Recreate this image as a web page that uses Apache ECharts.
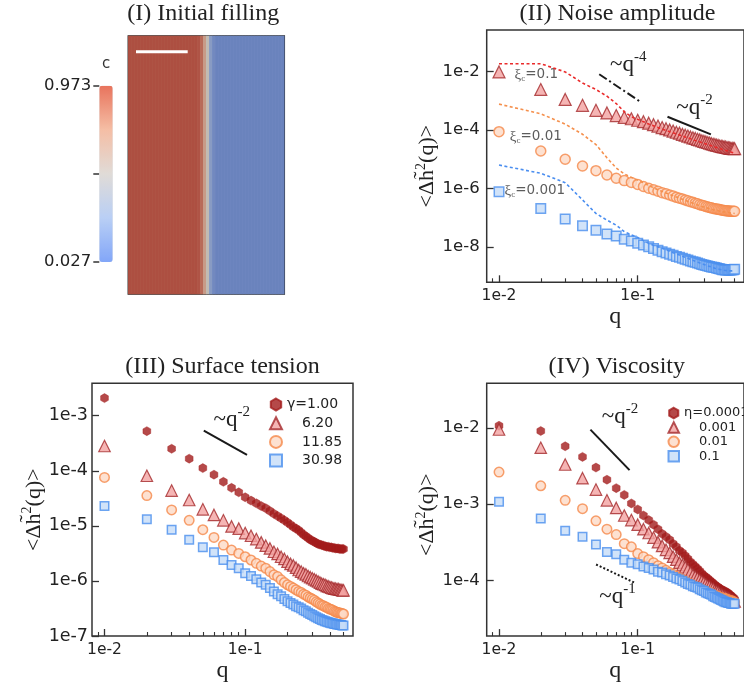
<!DOCTYPE html>
<html><head><meta charset="utf-8">
<script src="https://cdn.jsdelivr.net/npm/echarts@6/dist/echarts.min.js"></script>
<style>html,body{margin:0;padding:0;background:#fff}#c{width:744px;height:684px}</style>
</head><body><div id="c"></div>
<script>
// ---------------- data ----------------
const q = [0.01,0.02,0.03,0.04,0.05,0.06,0.07,0.08,0.09,0.10,0.11,0.12,0.13,0.14,0.15,0.16,0.17,0.18,0.19,0.20,
  0.21,0.22,0.23,0.24,0.25,0.26,0.27,0.28,0.29,0.30,0.31,0.32,0.33,0.34,0.35,0.36,0.37,0.38,0.39,0.40,
  0.41,0.42,0.43,0.44,0.45,0.46,0.47,0.48,0.49,0.50];

// (I) initial filling: concentration profile across the box (columns, left to right)
const fillProfile = [0.973,0.973,0.973,0.973,0.973,0.973,0.973,0.973,0.973,0.973,0.973,0.973,0.973,0.973,0.973,0.973,
  0.973,0.973,0.973,0.973,0.973,0.973,0.973,0.95,0.85,0.65,0.45,0.22,0.08,
  0.027,0.027,0.027,0.027,0.027,0.027,0.027,0.027,0.027,0.027,0.027,0.027,0.027,0.027,0.027,0.027,0.027,0.027,0.027,0.027,0.027,0.027,0.027];
const cbTicks = [0.027, 0.5, 0.973];
const cbLabels = [0.027, 0.973];

// (II) noise amplitude
const noiseXi01 = [9.55e-3,2.40e-3,1.10e-3,6.92e-4,4.68e-4,3.80e-4,3.09e-4,2.69e-4,2.40e-4,2.14e-4,1.91e-4,1.70e-4,1.51e-4,1.35e-4,1.20e-4,1.10e-4,1.00e-4,9.12e-5,8.32e-5,7.76e-5,
  7.08e-5,6.61e-5,6.17e-5,5.75e-5,5.37e-5,5.13e-5,4.79e-5,4.57e-5,4.27e-5,4.07e-5,3.89e-5,3.72e-5,3.55e-5,3.39e-5,3.24e-5,3.16e-5,3.02e-5,2.95e-5,2.82e-5,2.75e-5,
  2.69e-5,2.63e-5,2.57e-5,2.51e-5,2.45e-5,2.40e-5,2.34e-5,2.34e-5,2.29e-5,2.29e-5];
const noiseXi01Line = [1.82e-2,1.82e-2,9.55e-3,3.98e-3,2.40e-3,1.41e-3,7.94e-4,4.17e-4,2.82e-4,2.29e-4,1.91e-4,1.58e-4,1.38e-4,1.20e-4,1.07e-4,9.55e-5,8.71e-5,7.94e-5,7.24e-5,6.76e-5,
  6.17e-5,5.75e-5,5.37e-5,5.01e-5,4.68e-5,4.37e-5,4.17e-5,3.89e-5,3.72e-5,3.47e-5,3.31e-5,3.16e-5,3.02e-5,2.88e-5,2.75e-5,2.63e-5,2.51e-5,2.40e-5,2.34e-5,2.24e-5,
  2.14e-5,2.09e-5,2.00e-5,1.95e-5,1.86e-5,1.82e-5,1.74e-5,1.70e-5,1.66e-5,1.58e-5];
const noiseXi001 = [8.71e-5,1.91e-5,1.00e-5,5.89e-6,4.07e-6,2.88e-6,2.24e-6,1.86e-6,1.62e-6,1.38e-6,1.17e-6,1.02e-6,9.12e-7,8.13e-7,7.24e-7,6.61e-7,6.03e-7,5.50e-7,5.01e-7,4.68e-7,
  4.37e-7,4.07e-7,3.80e-7,3.55e-7,3.39e-7,3.16e-7,3.02e-7,2.82e-7,2.69e-7,2.57e-7,2.45e-7,2.34e-7,2.24e-7,2.19e-7,2.09e-7,2.04e-7,2.00e-7,1.95e-7,1.91e-7,1.86e-7,
  1.82e-7,1.78e-7,1.74e-7,1.74e-7,1.70e-7,1.70e-7,1.66e-7,1.66e-7,1.66e-7,1.66e-7];
const noiseXi001Line = [7.59e-4,3.55e-4,1.58e-4,7.08e-5,3.16e-5,1.12e-5,5.01e-6,3.16e-6,2.40e-6,1.95e-6,1.58e-6,1.26e-6,1.07e-6,9.12e-7,7.94e-7,7.08e-7,6.31e-7,5.62e-7,5.13e-7,4.68e-7,
  4.27e-7,3.98e-7,3.63e-7,3.39e-7,3.16e-7,2.95e-7,2.75e-7,2.63e-7,2.45e-7,2.34e-7,2.24e-7,2.14e-7,2.04e-7,1.95e-7,1.91e-7,1.82e-7,1.78e-7,1.74e-7,1.70e-7,1.66e-7,
  1.62e-7,1.58e-7,1.55e-7,1.55e-7,1.51e-7,1.48e-7,1.48e-7,1.45e-7,1.45e-7,1.41e-7];
const noiseXi0001 = [7.76e-7,2.09e-7,9.12e-8,5.37e-8,3.80e-8,2.82e-8,2.40e-8,1.86e-8,1.62e-8,1.35e-8,1.17e-8,1.02e-8,8.91e-9,7.76e-9,6.92e-9,6.31e-9,5.75e-9,5.25e-9,4.79e-9,4.47e-9,
  4.17e-9,3.89e-9,3.63e-9,3.39e-9,3.16e-9,3.02e-9,2.88e-9,2.69e-9,2.57e-9,2.45e-9,2.34e-9,2.29e-9,2.19e-9,2.09e-9,2.04e-9,2.00e-9,1.95e-9,1.86e-9,1.82e-9,1.74e-9,
  1.70e-9,1.70e-9,1.66e-9,1.66e-9,1.66e-9,1.66e-9,1.66e-9,1.70e-9,1.70e-9,1.74e-9];
const noiseXi0001Line = [6.31e-6,3.31e-6,1.58e-6,4.07e-7,1.41e-7,8.32e-8,5.62e-8,3.39e-8,2.63e-8,2.14e-8,1.66e-8,1.35e-8,1.15e-8,1.02e-8,9.12e-9,8.13e-9,7.24e-9,6.46e-9,5.89e-9,5.37e-9,
  4.90e-9,4.47e-9,4.17e-9,3.80e-9,3.55e-9,3.31e-9,3.09e-9,2.88e-9,2.69e-9,2.57e-9,2.40e-9,2.29e-9,2.19e-9,2.09e-9,2.00e-9,1.91e-9,1.86e-9,1.78e-9,1.74e-9,1.70e-9,
  1.66e-9,1.62e-9,1.58e-9,1.58e-9,1.55e-9,1.55e-9,1.55e-9,1.55e-9,1.58e-9,1.58e-9];

// (III) surface tension
const tensionG100 = [2.09e-3,5.25e-4,2.51e-4,1.66e-4,1.12e-4,8.51e-5,6.31e-5,4.90e-5,4.07e-5,3.31e-5,2.88e-5,2.57e-5,2.29e-5,2.09e-5,1.86e-5,1.66e-5,1.51e-5,1.38e-5,1.26e-5,1.15e-5,
  1.05e-5,9.55e-6,8.91e-6,8.32e-6,7.59e-6,6.92e-6,6.46e-6,6.03e-6,5.62e-6,5.37e-6,5.13e-6,4.90e-6,4.68e-6,4.57e-6,4.47e-6,4.37e-6,4.27e-6,4.17e-6,4.17e-6,4.07e-6,
  4.07e-6,3.98e-6,3.98e-6,3.89e-6,3.89e-6,3.89e-6,3.80e-6,3.80e-6,3.80e-6,3.80e-6];
const tensionG620 = [2.82e-4,8.13e-5,4.37e-5,2.95e-5,2.00e-5,1.58e-5,1.26e-5,9.77e-6,8.91e-6,7.41e-6,6.61e-6,5.75e-6,5.01e-6,4.37e-6,3.89e-6,3.39e-6,3.09e-6,2.75e-6,2.51e-6,2.24e-6,
  2.04e-6,1.91e-6,1.74e-6,1.58e-6,1.48e-6,1.38e-6,1.32e-6,1.23e-6,1.17e-6,1.12e-6,1.07e-6,1.02e-6,9.77e-7,9.33e-7,8.91e-7,8.71e-7,8.51e-7,8.13e-7,7.94e-7,7.76e-7,
  7.59e-7,7.41e-7,7.24e-7,7.24e-7,7.08e-7,7.08e-7,6.92e-7,6.92e-7,6.76e-7,6.76e-7];
const tensionG1185 = [7.59e-5,3.55e-5,1.95e-5,1.26e-5,8.51e-6,6.17e-6,4.47e-6,3.63e-6,3.16e-6,2.75e-6,2.40e-6,2.09e-6,1.86e-6,1.70e-6,1.48e-6,1.29e-6,1.20e-6,1.05e-6,9.33e-7,8.51e-7,
  7.94e-7,7.41e-7,6.92e-7,6.46e-7,6.17e-7,5.75e-7,5.50e-7,5.13e-7,4.90e-7,4.68e-7,4.47e-7,4.17e-7,3.98e-7,3.80e-7,3.63e-7,3.55e-7,3.39e-7,3.31e-7,3.16e-7,3.09e-7,
  3.02e-7,2.95e-7,2.82e-7,2.75e-7,2.69e-7,2.63e-7,2.63e-7,2.57e-7,2.57e-7,2.51e-7];
const tensionG3098 = [2.29e-5,1.32e-5,8.51e-6,5.62e-6,4.07e-6,3.31e-6,2.40e-6,1.95e-6,1.70e-6,1.38e-6,1.23e-6,1.07e-6,9.33e-7,8.51e-7,7.41e-7,6.46e-7,5.75e-7,5.25e-7,4.68e-7,4.27e-7,
  3.98e-7,3.72e-7,3.47e-7,3.31e-7,3.16e-7,2.95e-7,2.82e-7,2.63e-7,2.51e-7,2.40e-7,2.29e-7,2.19e-7,2.09e-7,2.04e-7,1.95e-7,1.91e-7,1.86e-7,1.82e-7,1.78e-7,1.74e-7,
  1.70e-7,1.70e-7,1.66e-7,1.66e-7,1.62e-7,1.62e-7,1.58e-7,1.58e-7,1.55e-7,1.55e-7];

// (IV) viscosity
const viscEta00001 = [1.07e-2,9.12e-3,5.75e-3,4.17e-3,3.02e-3,2.09e-3,1.62e-3,1.32e-3,1.02e-3,8.51e-4,7.08e-4,6.17e-4,5.37e-4,4.68e-4,4.07e-4,3.72e-4,3.39e-4,3.02e-4,2.75e-4,2.45e-4,
  2.29e-4,2.09e-4,1.91e-4,1.74e-4,1.62e-4,1.51e-4,1.41e-4,1.32e-4,1.23e-4,1.15e-4,1.10e-4,1.05e-4,1.00e-4,9.55e-5,9.12e-5,8.71e-5,8.32e-5,8.13e-5,7.76e-5,7.59e-5,
  7.41e-5,7.24e-5,7.08e-5,6.92e-5,6.76e-5,6.46e-5,6.31e-5,6.03e-5,5.89e-5,5.62e-5];
const viscEta0001 = [9.55e-3,5.50e-3,3.31e-3,2.19e-3,1.55e-3,1.12e-3,8.91e-4,7.08e-4,6.17e-4,5.37e-4,4.68e-4,4.17e-4,3.63e-4,3.16e-4,2.82e-4,2.51e-4,2.29e-4,2.04e-4,1.86e-4,1.70e-4,
  1.58e-4,1.48e-4,1.38e-4,1.26e-4,1.17e-4,1.12e-4,1.07e-4,1.02e-4,9.77e-5,9.33e-5,8.91e-5,8.51e-5,8.32e-5,7.94e-5,7.76e-5,7.41e-5,7.24e-5,7.08e-5,6.76e-5,6.61e-5,
  6.46e-5,6.31e-5,6.17e-5,6.03e-5,5.89e-5,5.75e-5,5.62e-5,5.50e-5,5.37e-5,5.25e-5];
const viscEta001 = [2.63e-3,1.74e-3,1.12e-3,8.71e-4,6.03e-4,4.68e-4,3.98e-4,3.02e-4,2.75e-4,2.24e-4,2.04e-4,1.86e-4,1.70e-4,1.55e-4,1.45e-4,1.35e-4,1.26e-4,1.20e-4,1.12e-4,1.07e-4,
  1.02e-4,9.77e-5,9.33e-5,8.91e-5,8.71e-5,8.32e-5,8.13e-5,7.76e-5,7.59e-5,7.41e-5,7.24e-5,7.08e-5,6.92e-5,6.61e-5,6.46e-5,6.31e-5,6.31e-5,6.17e-5,6.03e-5,5.89e-5,
  5.89e-5,5.75e-5,5.75e-5,5.62e-5,5.50e-5,5.50e-5,5.37e-5,5.37e-5,5.25e-5,5.13e-5];
const viscEta01 = [1.07e-3,6.46e-4,4.47e-4,3.72e-4,2.95e-4,2.34e-4,2.19e-4,1.86e-4,1.70e-4,1.62e-4,1.51e-4,1.45e-4,1.38e-4,1.29e-4,1.26e-4,1.20e-4,1.15e-4,1.10e-4,1.05e-4,1.02e-4,
  9.77e-5,9.33e-5,8.91e-5,8.71e-5,8.32e-5,8.13e-5,7.94e-5,7.59e-5,7.41e-5,7.24e-5,6.92e-5,6.76e-5,6.61e-5,6.46e-5,6.17e-5,6.03e-5,5.89e-5,5.75e-5,5.62e-5,5.50e-5,
  5.37e-5,5.25e-5,5.13e-5,5.13e-5,5.01e-5,5.01e-5,4.90e-5,4.90e-5,4.90e-5,4.90e-5];

// axis ticks
const xMajor = [0.01, 0.1];
const xMinor = [0.009,0.02,0.03,0.04,0.05,0.06,0.07,0.08,0.09,0.2,0.3,0.4,0.5];
const yTicksII = [1e-8,1e-6,1e-4,1e-2];
const yTicksIII = [1e-7,1e-6,1e-5,1e-4,1e-3];
const yTicksIV = [1e-4,1e-3,1e-2];

// scaling-law guide lines [q1, y1, q2, y2] and their labels
const guideII4 = [0.0528, 7.94e-3, 0.1045, 9.12e-4];
const guideII2 = [0.164, 2.82e-4, 0.337, 7.08e-5];
const guideIII2 = [0.0508, 5.37e-4, 0.103, 1.95e-4];
const guideIV2 = [0.0456, 9.5e-3, 0.0873, 2.79e-3];
const guideIV1 = [0.0501, 1.61e-4, 0.0952, 9.25e-5];
const labelII4 = [0.0856, 1.92e-2];
const labelII2 = [0.257, 6.6e-4];
const labelIII2 = [0.0802, 9.1e-4];
const labelIV2 = [0.0745, 1.46e-2];
const labelIV1 = [0.0715, 6.45e-5];

// ---------------- styling ----------------
const SERIF = "'Liberation Serif','DejaVu Serif',serif";
const SANS = "'DejaVu Sans',sans-serif";
const INK = '#222';
const HEX = 'path://M50 0 L93.3 25 L93.3 75 L50 100 L6.7 75 L6.7 25 Z';
const sty = {
  hex: {symbol: HEX, itemStyle: {color: '#a31c1c', borderColor: '#a31c1c', borderWidth: 0.5}},
  tri: {symbol: 'triangle', itemStyle: {color: '#f3a3a1', borderColor: '#a4282a', borderWidth: 1.2}},
  cir: {symbol: 'circle', itemStyle: {color: '#fdd9c5', borderColor: '#f5884a', borderWidth: 1.5}},
  sq:  {symbol: 'rect', itemStyle: {color: '#c6dcf7', borderColor: '#4a8fee', borderWidth: 1.5}}
};
const pairs = arr => q.map((x, i) => [x, arr[i]]);
const expFmt = v => '1e' + Math.round(Math.log10(v));

function xAxes(g, withName) {
  const base = {type: 'log', logBase: 10, gridIndex: g, min: 0.00815, max: 0.584, position: 'bottom',
    axisLine: {show: false}, splitLine: {show: false}, minorTick: {show: false}, minorSplitLine: {show: false}};
  return [
    Object.assign({}, base, {
      axisTick: {inside: true, length: 7, lineStyle: {color: '#333', width: 1.3}, customValues: xMajor},
      axisLabel: {customValues: xMajor, formatter: expFmt, fontSize: 15.5, fontFamily: SANS, color: INK, margin: 6},
      name: 'q', nameLocation: 'middle', nameGap: 19,
      nameTextStyle: {fontFamily: SERIF, fontSize: 24, color: INK}
    }),
    Object.assign({}, base, {
      axisTick: {inside: true, length: 4, lineStyle: {color: '#333', width: 1.1}, customValues: xMinor},
      axisLabel: {show: false}
    })
  ];
}
function yAxis(g, min, max, ticks, fs, margin, pad) {
  return {type: 'log', logBase: 10, gridIndex: g, min: min, max: max,
    axisLine: {show: false}, splitLine: {show: false}, minorTick: {show: false},
    axisTick: {inside: true, length: 7, lineStyle: {color: '#333', width: 1.3}, customValues: ticks},
    axisLabel: {customValues: ticks, formatter: expFmt, fontSize: fs, fontFamily: SANS, color: INK, margin: margin},
    name: '{a|<Δh\u0303}{s|2}{a|(q)>}', nameLocation: 'middle', nameGap: 45,
    nameTextStyle: {color: INK, padding: pad || 0, rich: {
      a: {fontFamily: SERIF, fontSize: 22, color: INK, verticalAlign: 'bottom'},
      s: {fontFamily: SERIF, fontSize: 14, color: INK, verticalAlign: 'bottom', padding: [0, 0, 10, 0]}
    }}
  };
}
const grids = [
  {left: 128.3, top: 36, width: 156, height: 258, show: true, borderColor: '#222', borderWidth: 1.5},
  {left: 99.3, top: 85.7, width: 13.4, height: 176.3},
  {left: 486.7, top: 30, width: 261, height: 252.3, show: true, borderColor: '#333', borderWidth: 1.5},
  {left: 92, top: 383.3, width: 261, height: 252.7, show: true, borderColor: '#333', borderWidth: 1.5},
  {left: 486.7, top: 383.3, width: 261, height: 253, show: true, borderColor: '#333', borderWidth: 1.5}
];
const xs = [
  {type: 'category', gridIndex: 0, data: fillProfile.map((_, i) => i), show: false},
  {type: 'value', gridIndex: 1, min: 0, max: 1, show: false}
].concat(xAxes(2), xAxes(3), xAxes(4));
const ys = [
  {type: 'category', gridIndex: 0, data: ['c'], show: false},
  {type: 'value', gridIndex: 1, min: 0.027, max: 0.973, position: 'left',
    axisLine: {show: false}, splitLine: {show: false},
    axisTick: {length: 6, lineStyle: {color: '#333', width: 1.5}, customValues: cbTicks},
    axisLabel: {customValues: cbLabels, formatter: v => v.toFixed(3), fontSize: 16.5, fontFamily: SANS, color: INK, margin: 8}},
  yAxis(2, 6.3e-10, 0.257, yTicksII, 16.5, 7, [0, 20, 0, 0]),
  yAxis(3, 1e-7, 3.88e-3, yTicksIII, 17.5, 4),
  yAxis(4, 1.845e-5, 0.0386, yTicksIV, 16.5, 7, [0, 10, 0, 0])
];

function guide(g, type) {
  return [{coord: [g[0], g[1]], lineStyle: {type: type}}, {coord: [g[2], g[3]]}];
}
function qlabel(pos, exp) {
  return {coord: pos, label: {formatter: '{a|~q}{b|' + exp + '}'}};
}
const markRich = {
  a: {fontFamily: SERIF, fontSize: 23, color: INK, verticalAlign: 'bottom'},
  b: {fontFamily: SERIF, fontSize: 15, color: INK, verticalAlign: 'bottom', padding: [0, 0, 12, 0]}
};
function marks(lines, labels) {
  return {
    markLine: {silent: true, symbol: ['none', 'none'], label: {show: false}, animation: false,
      lineStyle: {color: '#1a1a1a', width: 2, type: 'solid'}, data: lines},
    markPoint: {silent: true, symbol: 'circle', symbolSize: 1, itemStyle: {color: 'rgba(0,0,0,0)'}, animation: false,
      label: {show: true, position: 'inside', rich: markRich}, data: labels}
  };
}
function xiLabel(txt, dist, off) {
  return {show: true, position: 'right', distance: dist, offset: off,
    formatter: '{x|ξ}{c|c}{t|=' + txt + '}',
    rich: {x: {fontFamily: SERIF, fontSize: 15, color: '#333'},
           c: {fontFamily: SERIF, fontSize: 9, color: '#333', padding: [7, 0, 0, 0]},
           t: {fontFamily: SANS, fontSize: 13.5, color: '#333'}}};
}
function firstLabeled(arr, lab) {
  const d = pairs(arr);
  d[0] = {value: d[0], label: lab};
  return d;
}
function sc(name, xi, yi, arr, kind, size, extra) {
  return Object.assign({type: 'scatter', name: name, xAxisIndex: xi, yAxisIndex: yi, data: pairs(arr),
    symbolSize: size, symbolKeepAspect: true, z: 3}, sty[kind], extra || {});
}
function dash(name, xi, yi, arr, color) {
  return {type: 'line', name: name, xAxisIndex: xi, yAxisIndex: yi, data: pairs(arr), showSymbol: false, symbol: 'none',
    lineStyle: {color: color, width: 1.6, type: [3, 2.5]}, z: 4, silent: true};
}

const series = [
  {type: 'heatmap', xAxisIndex: 0, yAxisIndex: 0, data: fillProfile.map((c, i) => [i, 0, c]), silent: true},
  {type: 'scatter', xAxisIndex: 1, yAxisIndex: 1, data: [], silent: true},
  sc('ξc=0.1', 2, 2, noiseXi01, 'tri', 12, Object.assign({data: firstLabeled(noiseXi01, xiLabel('0.1', 9, [0, 3]))},
    marks([guide(guideII4, [9, 3, 2, 3]), guide(guideII2, 'solid')], [qlabel(labelII4, '-4'), qlabel(labelII2, '-2')]))),
  sc('ξc=0.01', 2, 2, noiseXi001, 'cir', 10, {data: firstLabeled(noiseXi001, xiLabel('0.01', 5, [0, 5]))}),
  sc('ξc=0.001', 2, 2, noiseXi0001, 'sq', 9.5, {data: firstLabeled(noiseXi0001, xiLabel('0.001', 0, [0, -1]))}),
  dash('sim 0.1', 2, 2, noiseXi01Line, '#ea2b2b'),
  dash('sim 0.01', 2, 2, noiseXi001Line, '#f5904d'),
  dash('sim 0.001', 2, 2, noiseXi0001Line, '#4a8ef0'),
  sc('γ=1.00', 4, 3, tensionG100, 'hex', 9, marks([guide(guideIII2, 'solid')], [qlabel(labelIII2, '-2')])),
  sc('6.20', 4, 3, tensionG620, 'tri', 11.5),
  sc('11.85', 4, 3, tensionG1185, 'cir', 9.5),
  sc('30.98', 4, 3, tensionG3098, 'sq', 8.5),
  sc('η=0.0001', 6, 4, viscEta00001, 'hex', 9, marks([guide(guideIV2, 'solid'), guide(guideIV1, [2, 2])],
    [qlabel(labelIV2, '-2'), qlabel(labelIV1, '-1')])),
  sc('0.001', 6, 4, viscEta0001, 'tri', 11.5),
  sc('0.01', 6, 4, viscEta001, 'cir', 9.5),
  sc('0.1', 6, 4, viscEta01, 'sq', 8.5)
];

const legendFmt = n => (n.indexOf('=') >= 0 ? n : '{p| }' + n);
const option = {
  animation: false,
  backgroundColor: '#fff',
  title: [
    {text: '(I) Initial filling', left: 203.3, top: 2},
    {text: '(II) Noise amplitude', left: 617.5, top: 2},
    {text: '(III) Surface tension', left: 222.5, top: 355},
    {text: '(IV) Viscosity', left: 616.7, top: 355}
  ].map(t => Object.assign(t, {textAlign: 'center', padding: 0,
    textStyle: {fontFamily: SERIF, fontSize: 24, fontWeight: 'normal', color: INK}})).concat([
    {text: 'c', left: 106, top: 57, textAlign: 'center', padding: 0,
     textStyle: {fontFamily: SANS, fontSize: 15, fontWeight: 'normal', color: '#333'}}
  ]),
  grid: grids,
  xAxis: xs,
  yAxis: ys,
  visualMap: [
    {type: 'continuous', show: false, seriesIndex: 0, min: 0.027, max: 0.973,
     inRange: {color: ['#6a83bd', '#8fa0c4', '#cfc2ae', '#c38470', '#ad4f41']}},
    {type: 'continuous', show: true, seriesIndex: 1, min: 0.027, max: 0.973, calculable: false,
     left: 99.3, top: 85.7, itemWidth: 13.4, itemHeight: 176.3, padding: 0, text: null,
     inRange: {color: ['#82a6f8', '#b9cff5', '#e0dbd7', '#f5bea5', '#e8735c']}}
  ],
  legend: [
    {data: ['γ=1.00', '6.20', '11.85', '30.98'], orient: 'vertical', left: 269, top: 396.5, padding: 0,
     itemWidth: 12, itemHeight: 12, itemGap: 2.7, selectedMode: false, formatter: legendFmt,
     textStyle: {fontFamily: SANS, fontSize: 14, color: INK, lineHeight: 16, rich: {p: {width: 15}}}},
    {data: ['η=0.0001', '0.001', '0.01', '0.1'], orient: 'vertical', left: 667.5, top: 406, padding: 0,
     itemWidth: 10.5, itemHeight: 10.5, itemGap: 0.4, selectedMode: false, formatter: legendFmt,
     textStyle: {fontFamily: SANS, fontSize: 13, color: INK, lineHeight: 14, rich: {p: {width: 15}}}}
  ],
  graphic: [
    {type: 'line', shape: {x1: 136, y1: 51.7, x2: 187.7, y2: 51.7}, style: {stroke: '#fff', lineWidth: 3}, z: 100}
  ],
  series: series
};
const chart = echarts.init(document.getElementById('c'), null, {renderer: 'canvas'});
chart.setOption(option);
</script>
</body></html>
